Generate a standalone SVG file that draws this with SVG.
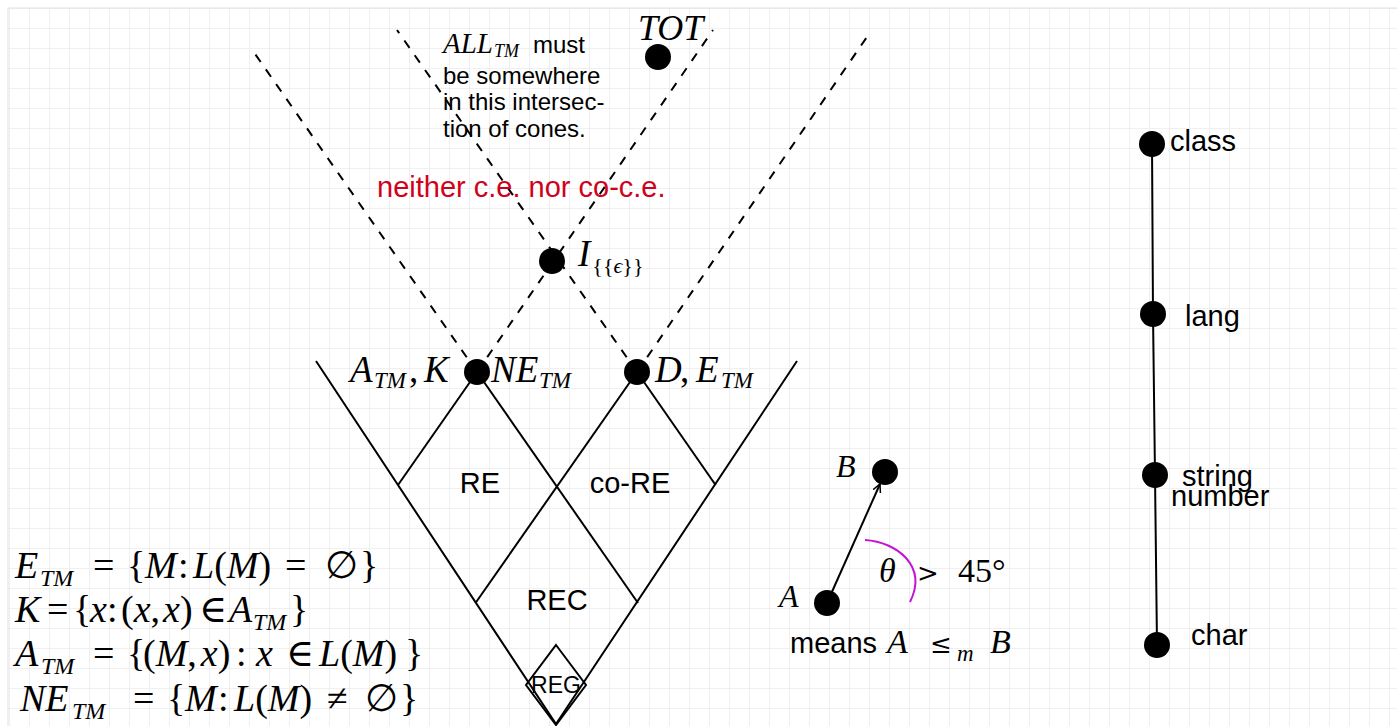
<svg xmlns="http://www.w3.org/2000/svg" width="1397" height="726" viewBox="0 0 1397 726">
<style>
.sans{font-family:"Liberation Sans",Arial,sans-serif;fill:#000}
.m{font-family:"Liberation Serif","DejaVu Serif",serif;fill:#000}
.sym{font-family:"DejaVu Serif",serif}
.i{font-style:italic}
.ln{stroke:#000;stroke-width:2;fill:none}
.dash{stroke:#000;stroke-width:2;fill:none;stroke-dasharray:9 9}
.node{fill:#000}
</style>
<defs>
<pattern id="grid" width="20" height="20" patternUnits="userSpaceOnUse" x="9" y="8">
<path d="M20 0 L0 0 0 20" fill="none" stroke="#ebebeb" stroke-width="1.6"/>
</pattern>
<marker id="arr" markerWidth="10" markerHeight="10" refX="8" refY="5" orient="auto" markerUnits="userSpaceOnUse">
<path d="M0 1 L8 5 L0 9" fill="none" stroke="#000" stroke-width="1.5"/>
</marker>
</defs>
<rect width="1397" height="726" fill="#fff"/>
<rect x="8" y="8" width="1390" height="720" fill="url(#grid)" stroke="#e2e2e2" stroke-width="1"/>

<g id="connectors">
<polyline class="ln" points="316,361 556,724 797,361"/>
<line class="ln" x1="477" y1="372" x2="638" y2="603"/>
<line class="ln" x1="477" y1="372" x2="398" y2="485"/>
<line class="ln" x1="637" y1="372" x2="475.5" y2="603"/>
<line class="ln" x1="637" y1="372" x2="715.6" y2="485"/>
<polygon class="ln" points="556,645 586,685 556,725 526,685"/>
<line class="dash" x1="477" y1="372" x2="253" y2="51"/>
<line class="dash" x1="477" y1="372" x2="713" y2="30"/>
<line class="dash" x1="637" y1="372" x2="397" y2="30"/>
<line class="dash" x1="637" y1="372" x2="871" y2="31"/>
<line class="ln" x1="827" y1="603" x2="880" y2="484" marker-end="url(#arr)"/>
<path d="M865 540 C897 542 928 566 910 602" fill="none" stroke="#c414d6" stroke-width="2"/>
<polyline class="ln" points="1152,144 1153,314 1155,475 1157,645"/>
</g>

<g id="node-tot">
<circle class="node" cx="658" cy="57" r="13"/>
<text class="m i" x="638" y="40" font-size="36">TOT</text>
</g>
<g id="node-i">
<circle class="node" cx="552" cy="261" r="13"/>
<text class="m" font-size="37" x="578" y="266"><tspan class="i">I</tspan><tspan font-size="22" y="273" dx="2">{{<tspan class="i">ϵ</tspan>}}</tspan></text>
</g>
<g id="node-atm">
<circle class="node" cx="477" cy="372" r="13"/>
<text class="m" font-size="37" y="382"><tspan class="i" x="350">A</tspan><tspan class="i" font-size="23" x="374" y="388">TM</tspan><tspan x="409" y="382">,</tspan><tspan class="i" x="424">K</tspan></text>
<text class="m" font-size="37" y="382"><tspan class="i" x="491">NE</tspan><tspan class="i" font-size="23" x="539" y="388">TM</tspan></text>
</g>
<g id="node-d">
<circle class="node" cx="637" cy="372" r="13"/>
<text class="m" font-size="37" y="382"><tspan class="i" x="655">D</tspan><tspan x="680">,</tspan><tspan class="i" x="696">E</tspan><tspan class="i" font-size="23" x="721" y="388">TM</tspan></text>
</g>

<g id="note-all">
<text class="m" font-size="29" y="53"><tspan class="i" x="443">ALL</tspan><tspan class="i" font-size="18" x="494" y="57">TM</tspan></text>
<text class="sans" font-size="24" x="533" y="53">must</text>
<text class="sans" font-size="24" x="443" y="84">be somewhere</text>
<text class="sans" font-size="24" x="443" y="110">in this intersec-</text>
<text class="sans" font-size="24" x="443" y="137">tion of cones.</text>
</g>
<g id="label-neither">
<text class="sans" font-size="29" x="377" y="197" style="fill:#d0021b">neither c.e. nor co-c.e.</text>
</g>
<g id="regions">
<text class="sans" font-size="29" x="480" y="493" text-anchor="middle">RE</text>
<text class="sans" font-size="29" x="630" y="493" text-anchor="middle">co-RE</text>
<text class="sans" font-size="29" x="557" y="610" text-anchor="middle">REC</text>
<text class="sans" font-size="23" x="556" y="693" text-anchor="middle">REG</text>
</g>

<g id="defs-text">
<text class="m" font-size="38" y="578"><tspan class="i" x="15">E</tspan><tspan class="i" font-size="24" x="40" y="586">TM</tspan><tspan x="93" y="578">=</tspan><tspan x="127">{</tspan><tspan class="i" x="145">M</tspan><tspan x="178">:</tspan><tspan class="i" x="193">L</tspan><tspan>(</tspan><tspan class="i">M</tspan><tspan>)</tspan><tspan x="285">=</tspan><tspan x="325">∅</tspan><tspan x="360">}</tspan></text>
<text class="m" font-size="38" y="622"><tspan class="i" x="15">K</tspan><tspan x="47">=</tspan><tspan x="73">{</tspan><tspan class="i" x="90">x</tspan><tspan x="107">:</tspan><tspan x="121">(</tspan><tspan class="i">x</tspan><tspan>,</tspan><tspan class="i" dx="3">x</tspan><tspan>)</tspan><tspan x="199">∈</tspan><tspan class="i" x="229">A</tspan><tspan class="i" font-size="24" x="253" y="630">TM</tspan><tspan x="290" y="622">}</tspan></text>
<text class="m" font-size="38" y="666"><tspan class="i" x="15">A</tspan><tspan class="i" font-size="24" x="41" y="674">TM</tspan><tspan x="93" y="666">=</tspan><tspan x="127">{</tspan><tspan x="143">(</tspan><tspan class="i">M</tspan><tspan>,</tspan><tspan class="i" dx="4">x</tspan><tspan>)</tspan><tspan x="236">:</tspan><tspan class="i" x="256">x</tspan><tspan x="286">∈</tspan><tspan class="i" x="319">L</tspan><tspan>(</tspan><tspan class="i">M</tspan><tspan>)</tspan><tspan x="405">}</tspan></text>
<text class="m" font-size="38" y="711"><tspan class="i" x="20">NE</tspan><tspan class="i" font-size="24" x="72" y="719">TM</tspan><tspan x="133" y="711">=</tspan><tspan x="167">{</tspan><tspan class="i" x="185">M</tspan><tspan x="218">:</tspan><tspan class="i" x="234">L</tspan><tspan>(</tspan><tspan class="i">M</tspan><tspan>)</tspan><tspan x="327">≠</tspan><tspan x="365">∅</tspan><tspan x="400">}</tspan></text>
</g>

<g id="node-b">
<circle class="node" cx="885" cy="472" r="13"/>
<text class="m i" font-size="32" x="836" y="477">B</text>
</g>
<g id="node-a">
<circle class="node" cx="827" cy="603" r="13"/>
<text class="m i" font-size="32" x="779" y="607">A</text>
</g>
<g id="label-theta">
<text class="m" font-size="34" y="582"><tspan class="i" x="879">θ</tspan><tspan class="sym" font-size="26" x="917">&gt;</tspan><tspan x="958">45°</tspan></text>
<text class="sans" font-size="29" x="790" y="653">means</text>
<text class="m" font-size="34" y="653"><tspan class="i" x="887">A</tspan><tspan class="sym" font-size="26" x="930">≤</tspan><tspan class="i" font-size="23" x="957" y="661">m</tspan><tspan class="i" x="990" y="653">B</tspan></text>
</g>

<g id="node-class">
<circle class="node" cx="1152" cy="144" r="13"/>
<text class="sans" font-size="29" x="1170" y="151">class</text>
</g>
<g id="node-lang">
<circle class="node" cx="1153" cy="314" r="13"/>
<text class="sans" font-size="29" x="1185" y="326">lang</text>
</g>
<g id="node-string">
<circle class="node" cx="1155" cy="475" r="13"/>
<text class="sans" font-size="29" x="1182" y="486">string</text>
<text class="sans" font-size="29" x="1171" y="506">number</text>
</g>
<g id="node-char">
<circle class="node" cx="1157" cy="645" r="13"/>
<text class="sans" font-size="29" x="1191" y="645">char</text>
</g>
</svg>
